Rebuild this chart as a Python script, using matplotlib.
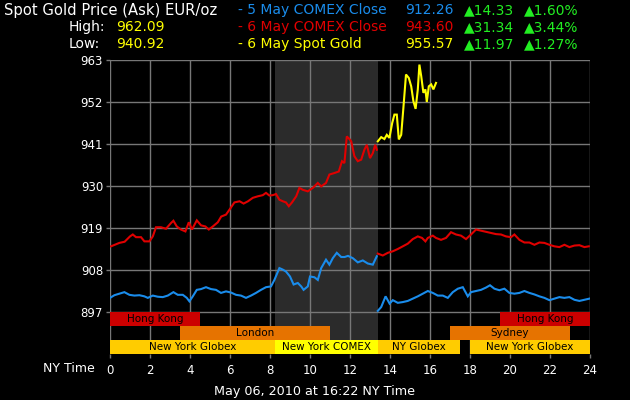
import matplotlib
matplotlib.use("Agg")
import matplotlib.pyplot as plt

# ---------------- data ----------------
red1_h = [0.05, 0.47, 0.73, 1.0, 1.14, 1.3, 1.55, 1.72, 1.97, 2.14, 2.3, 2.55, 2.8, 3.05, 3.17, 3.34,
          3.55, 3.77, 3.94, 4.1, 4.34, 4.55, 4.77, 4.94, 5.14, 5.39, 5.56, 5.8, 6.0, 6.22, 6.48, 6.68,
          6.9, 7.14, 7.39, 7.64, 7.8, 7.97, 8.14, 8.3, 8.47, 8.64, 8.8, 8.94, 9.1, 9.31, 9.47, 9.64,
          9.89, 10.14, 10.39, 10.56, 10.8, 10.97, 11.22, 11.44, 11.6, 11.72, 11.84, 11.97, 12.06,
          12.22, 12.39, 12.56, 12.72, 12.84, 13.0, 13.14, 13.26, 13.34]
red1_v = [914.2, 915.1, 915.4, 916.8, 917.3, 916.6, 916.6, 915.5, 915.5, 916.8, 919.2, 919.2, 918.8,
          920.3, 920.9, 919.4, 918.6, 918.1, 920.5, 918.6, 921.0, 919.7, 919.4, 918.6, 919.4, 920.5,
          922.0, 922.5, 924.0, 925.7, 926.0, 925.4, 926.0, 926.9, 927.3, 927.6, 928.2, 927.5, 927.6,
          927.9, 926.4, 926.0, 925.7, 924.7, 925.7, 927.3, 929.5, 929.0, 928.6, 929.5, 930.8, 929.9,
          930.8, 933.0, 933.4, 933.8, 936.5, 936.0, 943.0, 942.3, 941.7, 937.8, 936.5, 936.9, 939.5,
          940.8, 937.3, 938.6, 940.8, 939.5]

red2_h = [13.39, 13.64, 13.89, 14.14, 14.39, 14.64, 14.89, 15.14, 15.39, 15.6, 15.77, 15.89, 16.14,
          16.3, 16.55, 16.8, 17.05, 17.3, 17.55, 17.8, 18.05, 18.3, 18.55, 18.8, 19.05, 19.3, 19.55,
          19.8, 20.05, 20.22, 20.47, 20.72, 20.97, 21.22, 21.47, 21.72, 21.97, 22.22, 22.47, 22.72,
          22.97, 23.22, 23.47, 23.72, 23.94]
red2_v = [912.3, 911.8, 912.5, 912.9, 913.5, 914.2, 914.9, 916.1, 916.8, 916.4, 915.5, 916.4, 917.0,
          916.4, 915.9, 916.4, 917.9, 917.3, 917.0, 916.1, 917.3, 918.6, 918.3, 918.0, 917.7, 917.4,
          917.3, 916.8, 916.6, 917.3, 915.9, 915.2, 915.2, 914.6, 915.2, 915.1, 914.6, 914.2, 914.0,
          914.6, 914.0, 914.4, 914.5, 914.0, 914.2]

blue1_h = [0.0, 0.22, 0.47, 0.72, 0.97, 1.22, 1.47, 1.72, 1.89, 2.14, 2.39, 2.64, 2.89, 3.17, 3.39,
           3.64, 3.84, 3.97, 4.14, 4.34, 4.55, 4.8, 5.05, 5.3, 5.55, 5.8, 6.05, 6.3, 6.55, 6.8, 7.05,
           7.3, 7.55, 7.8, 8.05, 8.22, 8.47, 8.64, 8.8, 9.0, 9.18, 9.39, 9.56, 9.68, 9.89, 10.0,
           10.22, 10.39, 10.56, 10.8, 10.97, 11.14, 11.34, 11.56, 11.73, 11.9, 12.14, 12.39, 12.64,
           12.89, 13.14, 13.34]
blue1_v = [900.7, 901.4, 901.8, 902.2, 901.5, 901.3, 901.4, 901.1, 900.7, 901.3, 901.0, 900.9, 901.3,
           902.2, 901.5, 901.5, 900.7, 899.8, 901.1, 902.8, 903.0, 903.5, 903.0, 902.8, 902.0, 902.4,
           902.1, 901.5, 901.3, 900.7, 901.3, 902.0, 902.8, 903.5, 903.7, 905.4, 908.5, 908.1, 907.6,
           906.3, 904.2, 904.6, 903.7, 902.8, 903.7, 906.3, 906.1, 905.4, 908.5, 910.7, 909.4, 911.1,
           912.5, 911.4, 911.4, 911.7, 911.1, 910.0, 910.5, 909.7, 909.4, 911.6]

blue2_h = [13.39, 13.56, 13.78, 13.98, 14.14, 14.39, 14.64, 14.89, 15.14, 15.39, 15.64, 15.89, 16.14,
           16.39, 16.64, 16.89, 17.14, 17.39, 17.64, 17.89, 18.05, 18.3, 18.55, 18.8, 19.0, 19.22,
           19.47, 19.72, 19.97, 20.22, 20.47, 20.72, 20.97, 21.22, 21.47, 21.72, 21.97, 22.22, 22.47,
           22.72, 22.97, 23.22, 23.47, 23.72, 23.97]
blue2_v = [897.3, 898.3, 901.1, 899.2, 900.1, 899.4, 899.6, 899.9, 900.5, 901.1, 901.8, 902.5, 902.0,
           901.3, 901.3, 900.7, 902.2, 903.1, 903.5, 901.1, 902.2, 902.5, 902.8, 903.4, 904.0, 903.1,
           902.7, 903.1, 902.0, 901.8, 902.0, 902.5, 902.0, 901.6, 901.1, 900.7, 900.1, 900.5, 900.9,
           900.7, 900.9, 900.2, 899.9, 900.2, 900.5]

yel_h = [13.39, 13.56, 13.72, 13.84, 13.97, 14.11, 14.22, 14.34, 14.44, 14.56, 14.67, 14.8, 14.94,
         15.06, 15.17, 15.28, 15.39, 15.47, 15.56, 15.67, 15.77, 15.84, 15.94, 16.06, 16.17, 16.3]
yel_v = [941.7, 942.8, 942.3, 943.4, 942.6, 946.5, 948.7, 948.7, 942.2, 943.4, 950.5, 959.2, 958.3,
         956.1, 952.2, 950.2, 955.3, 961.8, 958.8, 954.4, 955.3, 952.0, 956.1, 956.6, 955.3, 957.0]

y_ticks = [897, 908, 919, 930, 941, 952, 963]
x_ticks = list(range(0, 25, 2))

comex_shade = (8.25, 13.4)
# session rows: (label, start, end, color)
row_hk = [("Hong Kong", 0, 4.5), ("Hong Kong", 19.5, 24)]
row_lon = [("London", 3.5, 11.0), ("Sydney", 17.0, 23.0)]
row_ny = [("New York Globex", 0, 8.25, "#FFCC00"), ("New York COMEX", 8.25, 13.4, "#FFFF00"),
          ("NY Globex", 13.4, 17.5, "#FFCC00"), ("New York Globex", 18.0, 24, "#FFCC00")]

BLUE = "#1A8CEB"
RED = "#E00000"
YEL = "#FFFF00"
GRN = "#22EE22"
GRID = "#777777"

fig = plt.figure(figsize=(6.3, 4.0), dpi=100, facecolor="black")
ax = fig.add_axes([110 / 630, 1 - 354 / 400, 480 / 630, 294 / 400])
ax.set_facecolor("black")
ymin, ymax = 886, 963
ax.set_xlim(0, 24)
ax.set_ylim(ymin, ymax)
for s in ax.spines.values():
    s.set_visible(False)

# grid
for yt in y_ticks:
    ax.axhline(yt, color=GRID, lw=1.0, zorder=1)
for xt in x_ticks:
    ax.axvline(xt, color=GRID, lw=1.0, zorder=1)

ax.axvspan(*comex_shade, color="#2B2B2B", zorder=0.5, lw=0)

rh = 11 / 3.0
def draw_row(items, top, default_color=None):
    for it in items:
        lab, s, e = it[0], it[1], it[2]
        c = it[3] if len(it) > 3 else default_color
        ax.add_patch(plt.Rectangle((s, top - rh), e - s, rh, facecolor=c, edgecolor="none", zorder=3))
        ax.text((s + e) / 2, top - rh / 2, lab, ha="center", va="center", fontsize=7.5,
                color="black", zorder=4)

draw_row(row_hk, 897, "#CC0000")
draw_row(row_lon, 897 - rh, "#E67300")
draw_row(row_ny, 897 - 2 * rh, None)

lw = 1.5
for hh, vv, c in [(blue1_h, blue1_v, BLUE), (blue2_h, blue2_v, BLUE),
                  (red1_h, red1_v, RED), (red2_h, red2_v, RED), (yel_h, yel_v, YEL)]:
    ax.plot(hh, vv, color=c, lw=lw, zorder=5, solid_joinstyle="miter")

ax.set_yticks(y_ticks)
ax.set_yticklabels([str(v) for v in y_ticks])
ax.set_xticks(x_ticks)
ax.set_xticklabels([str(v) for v in x_ticks])
ax.tick_params(axis="both", colors=GRID, labelcolor="white", labelsize=8.5, length=3, width=1.0, pad=2)
ax.tick_params(axis="x", pad=4)

fig.text(43 / 630, 1 - 368 / 400, "NY Time", color="white", fontsize=9, ha="left", va="center")
fig.text(315 / 630, 1 - 392 / 400, "May 06, 2010 at 16:22 NY Time", color="white", fontsize=9.2,
         ha="center", va="center")

# header
fs = 10
def t(x, y, s, c, size=fs):
    fig.text(x / 630, 1 - y / 400, s, color=c, fontsize=size, ha="left", va="center")

t(4, 10, "Spot Gold Price (Ask) EUR/oz", "white", 10.6)
t(69, 27, "High:", "white")
t(116, 27, "962.09", YEL)
t(69, 44, "Low:", "white")
t(116, 44, "940.92", YEL)

t(238, 10, "- 5 May COMEX Close", BLUE)
t(405, 10, "912.26", BLUE)
t(464, 10, "\u25B214.33", GRN)
t(524, 10, "\u25B21.60%", GRN)

t(238, 27, "- 6 May COMEX Close", RED)
t(405, 27, "943.60", RED)
t(464, 27, "\u25B231.34", GRN)
t(524, 27, "\u25B23.44%", GRN)

t(238, 44, "- 6 May Spot Gold", YEL)
t(405, 44, "955.57", YEL)
t(464, 44, "\u25B211.97", GRN)
t(524, 44, "\u25B21.27%", GRN)

fig.savefig("out.png", dpi=100, facecolor="black")
